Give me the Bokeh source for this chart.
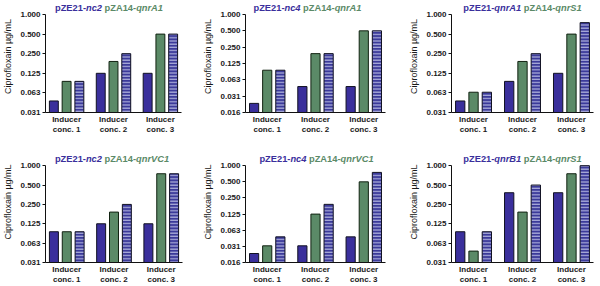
from bokeh.plotting import figure
from bokeh.layouts import row, column
from bokeh.models import FixedTicker, Range1d
from bokeh.core.properties import value
from bokeh.embed import file_html
from bokeh.resources import INLINE

# ---------------- data ----------------
group_labels = ["Inducer\nconc. 1", "Inducer\nconc. 2", "Inducer\nconc. 3"]
group_pos = [0, 1, 2]

ticks_a = [0.03125, 0.0625, 0.125, 0.25, 0.5, 1.0]
tick_labels_a = ["0.031", "0.063", "0.125", "0.250", "0.500", "1.000"]
ticks_b = [0.015625, 0.03125, 0.0625, 0.125, 0.25, 0.5, 1.0]
tick_labels_b = ["0.016", "0.031", "0.063", "0.125", "0.250", "0.500", "1.000"]

y_axis_label = "Ciprofloxain µg/mL"

# titles: (blue plasmid, blue gene, green plasmid, green gene)
title_1 = ("pZE21-", "nc2", "pZA14-", "qnrA1")
title_2 = ("pZE21-", "nc4", "pZA14-", "qnrA1")
title_3 = ("pZE21-", "qnrA1", "pZA14-", "qnrS1")
title_4 = ("pZE21-", "nc2", "pZA14-", "qnrVC1")
title_5 = ("pZE21-", "nc4", "pZA14-", "qnrVC1")
title_6 = ("pZE21-", "qnrB1", "pZA14-", "qnrS1")

# MIC values (µg/mL) per panel: pZE21 alone (blue), pZA14 alone (green), both (striped)
p1_pze21 = [0.047, 0.125, 0.125]
p1_pza14 = [0.094, 0.19, 0.5]
p1_both = [0.094, 0.25, 0.5]

p2_pze21 = [0.023, 0.047, 0.047]
p2_pza14 = [0.094, 0.19, 0.5]
p2_both = [0.094, 0.19, 0.5]

p3_pze21 = [0.047, 0.094, 0.125]
p3_pza14 = [0.064, 0.19, 0.5]
p3_both = [0.064, 0.25, 0.75]

p4_pze21 = [0.094, 0.125, 0.125]
p4_pza14 = [0.094, 0.19, 0.75]
p4_both = [0.094, 0.25, 0.75]

p5_pze21 = [0.023, 0.032, 0.047]
p5_pza14 = [0.032, 0.125, 0.5]
p5_both = [0.047, 0.19, 0.75]

p6_pze21 = [0.094, 0.38, 0.38]
p6_pza14 = [0.047, 0.19, 0.75]
p6_both = [0.094, 0.5, 1.0]

# ---------------- style ----------------
FONT = "Liberation Sans"
BLUE = "#3a2f9c"
GREEN = "#5b8a67"
STRIPE_BG = "#3b3a9a"
STRIPE_FG = "#a9abd9"
TITLE_BLUE = "#3a2f9c"
TITLE_GREEN = "#5b8a67"
TITLE_SIZE = 9.3
DATA_PX = 98.0      # pixel height of the data part of each frame

# Liberation Sans Bold advance widths (per 1000 em)
W = {'p': 611, 'Z': 611, 'E': 667, '2': 556, '1': 556, '-': 333, 'n': 611,
     'c': 556, '4': 556, 'A': 722, 'q': 611, 'r': 389, ' ': 278, 'V': 667,
     'C': 722, 'S': 667, 'B': 722}


def tw(s, size):
    return sum(W.get(ch, 556) for ch in s) * size / 1000.0


def make_panel(title, blue, green, both, ticks, tick_labels,
               left, right, height, bottom, pad_top, title_dx):
    nsteps = len(ticks) - 1
    step_px = DATA_PX / nsteps
    y_top = ticks[-1] * 2 ** (pad_top / step_px)
    p = figure(width=200, height=height, output_backend="svg",
               toolbar_location=None, y_axis_type="log",
               x_range=Range1d(-0.45, 2.45),
               y_range=Range1d(ticks[0], y_top),
               min_border_left=left, min_border_right=right,
               min_border_top=0, min_border_bottom=bottom)
    p.outline_line_color = None
    p.xgrid.visible = False
    p.ygrid.visible = False
    p.background_fill_color = "white"
    p.border_fill_color = "white"

    base = ticks[0]
    off = 0.272
    bw = 0.19
    xb = [g - off for g in group_pos]
    xg = [g for g in group_pos]
    xs = [g + off for g in group_pos]
    p.vbar(x=xb, top=blue, bottom=base, width=bw, fill_color=BLUE,
           line_color="#111122", line_width=1)
    p.vbar(x=xg, top=green, bottom=base, width=bw, fill_color=GREEN,
           line_color="#112211", line_width=1)
    p.vbar(x=xs, top=both, bottom=base, width=bw, fill_color=STRIPE_BG,
           line_color="#111122", line_width=1,
           hatch_pattern="horizontal_line", hatch_color=STRIPE_FG,
           hatch_scale=3.2, hatch_weight=1.3)

    # y axis
    ya = p.yaxis[0]
    ya.bounds = (ticks[0], ticks[-1])
    ya.ticker = FixedTicker(ticks=ticks, minor_ticks=[])
    ya.major_label_overrides = {t: l for t, l in zip(ticks, tick_labels)}
    ya.major_label_text_font = FONT
    ya.major_label_text_font_style = "bold"
    ya.major_label_text_font_size = "8px"
    ya.major_label_text_color = "#1a1a1a"
    ya.major_label_standoff = 2
    ya.major_tick_out = 3
    ya.major_tick_in = 0
    ya.minor_tick_out = 0
    ya.minor_tick_in = 0
    ya.axis_line_color = "#111111"
    ya.major_tick_line_color = "#111111"
    ya.axis_label = y_axis_label
    ya.axis_label_text_font = FONT
    ya.axis_label_text_font_style = "normal"
    ya.axis_label_text_font_size = "9px"
    ya.axis_label_text_color = "#1a1a1a"
    ya.axis_label_standoff = 4

    # x axis
    xa = p.xaxis[0]
    xa.ticker = FixedTicker(ticks=group_pos, minor_ticks=[])
    xa.major_label_overrides = {g: l for g, l in zip(group_pos, group_labels)}
    xa.major_label_text_font = FONT
    xa.major_label_text_font_style = "bold"
    xa.major_label_text_font_size = "8px"
    xa.major_label_text_color = "#1a1a1a"
    xa.major_label_text_line_height = 1.15
    xa.major_label_standoff = 2
    xa.major_tick_out = 0
    xa.major_tick_in = 0
    xa.minor_tick_out = 0
    xa.minor_tick_in = 0
    xa.axis_line_color = "#111111"

    # two-coloured title built from text pieces, placed above the 1.000 line
    y_title = ticks[-1] * 2 ** (6.5 / step_px)
    segs = [(title[0], TITLE_BLUE, "bold"),
            (title[1], TITLE_BLUE, "bold italic"),
            (" ", None, None),
            (title[2], TITLE_GREEN, "bold"),
            (title[3], TITLE_GREEN, "bold italic")]
    total = sum(tw(s, TITLE_SIZE) for s, _, _ in segs)
    xo = title_dx - total / 2.0
    for s, col, style in segs:
        if col is not None:
            p.text(x=[1.0], y=[y_title], text=[s], x_offset=xo,
                   text_color=col, text_font=value(FONT),
                   text_font_style=style,
                   text_font_size=f"{TITLE_SIZE}px",
                   text_baseline="alphabetic", text_align="left")
        xo += tw(s, TITLE_SIZE)
    return p


# title_dx: horizontal shift (px) of title centre from the middle group
p1 = make_panel(title_1, p1_pze21, p1_pza14, p1_both, ticks_a, tick_labels_a,
                39, 19, 141, 29, 14, -4.5)
p2 = make_panel(title_2, p2_pze21, p2_pza14, p2_both, ticks_b, tick_labels_b,
                43, 15, 141, 29, 14, -8)
p3 = make_panel(title_3, p3_pze21, p3_pza14, p3_both, ticks_a, tick_labels_a,
                51, 7, 141, 29, 14, 0)
p4 = make_panel(title_4, p4_pze21, p4_pza14, p4_both, ticks_a, tick_labels_a,
                40, 18, 145, 23, 24.5, -2)
p5 = make_panel(title_5, p5_pze21, p5_pza14, p5_both, ticks_b, tick_labels_b,
                43, 15, 145, 23, 24.5, 1)
p6 = make_panel(title_6, p6_pze21, p6_pza14, p6_both, ticks_a, tick_labels_a,
                51, 7, 145, 23, 24.5, 0)

layout = column(row(p1, p2, p3), row(p4, p5, p6))

open("out.html", "w").write(file_html(layout, INLINE))
